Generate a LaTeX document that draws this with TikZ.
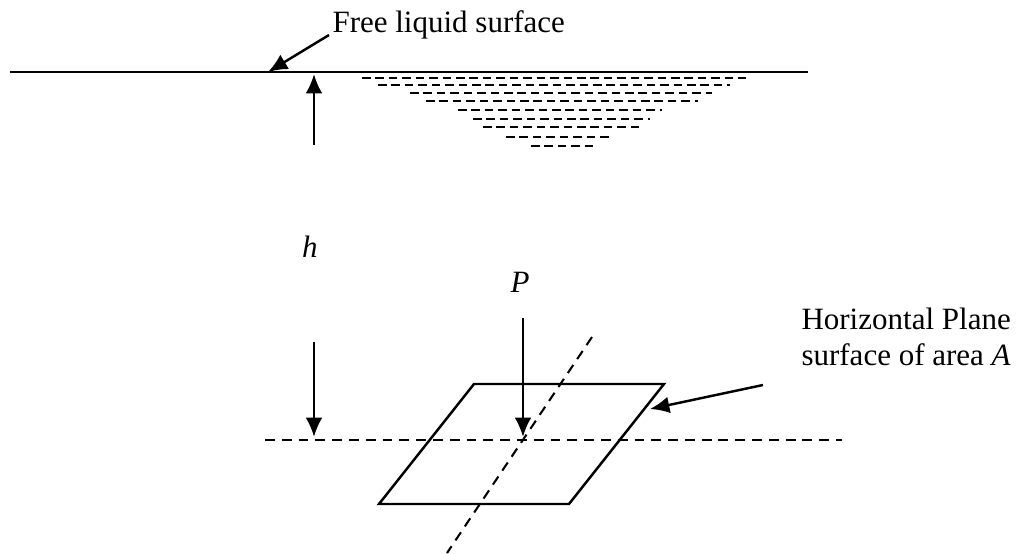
\documentclass[tikz,border=0pt]{standalone}
\usepackage{fontspec}
\setmainfont{Liberation Serif}
\usetikzlibrary{arrows.meta}
\begin{document}
\begin{tikzpicture}[x=0.387pt, y=-0.387pt, >={Latex[length=7.5pt, width=6.5pt]}]
			\tikzset{
				txt/.style={font=\fontsize{12}{13.9}\selectfont, inner sep=0},
				edge/.style={line width=0.95pt},
				ripple/.style={line width=0.85pt, dash pattern=on 3.3pt off 1.9pt},
				guide/.style={line width=0.8pt, dash pattern=on 3.8pt off 2.7pt},
			}
			\useasboundingbox (0,0) rectangle (1016,553);
			% free surface
			\coordinate (sl) at (10,72);
			\coordinate (sr) at (808,72);
			\draw[edge] (sl) -- (sr);
			\node[txt, anchor=base west] (free) at (332,32) {Free liquid surface};
			\coordinate (ftip) at (268,72);
			\draw[->, edge] (329,35) -- (ftip);
			\foreach \y/\a/\b in {78/362/746, 85/378/730, 93/410/712, 101/426/698, 110/458/662,
					119/473/650, 127/483/643, 137/506/612, 146/531/595}
				{
					\draw[ripple] (\a,\y) -- (\b,\y);
				}
			% depth h
			\node[txt, anchor=base] (h) at (310,257) {\textit{h}};
			\coordinate (hup0) at (314,145);
			\coordinate (hup1) at (314,74);
			\coordinate (hdn0) at (314,342);
			\coordinate (hdn1) at (314,437);
			\draw[->, edge] (hup0) -- (hup1);
			\draw[->, edge] (hdn0) -- (hdn1);
			% plane surface
			\coordinate (gl) at (265,440);
			\coordinate (gr) at (842,440);
			\draw[guide] (gl) -- (gr);
			\coordinate (dt) at (592,337);
			\coordinate (db) at (447,553);
			\draw[guide] (dt) -- (db);
			\coordinate (p1) at (474,384);
			\coordinate (p2) at (664,384);
			\coordinate (p3) at (569,504);
			\coordinate (p4) at (379,504);
			\draw[edge] (p1) -- (p2) -- (p3) -- (p4) -- cycle;
			\node[txt, anchor=base] (P) at (520,292) {\textit{P}};
			\coordinate (pc) at (523,437);
			\draw[->, edge] (523,318) -- (pc);
			\node[txt, anchor=base west] (plane) at (801,329) {Horizontal Plane};
			\node[txt, anchor=base west] (area) at (801,365) {surface of area \textit{A}};
			\coordinate (atail) at (763,385);
			\coordinate (atip) at (650,409);
			\draw[->, edge] (atail) -- (atip);
		\end{tikzpicture}
\end{document}
